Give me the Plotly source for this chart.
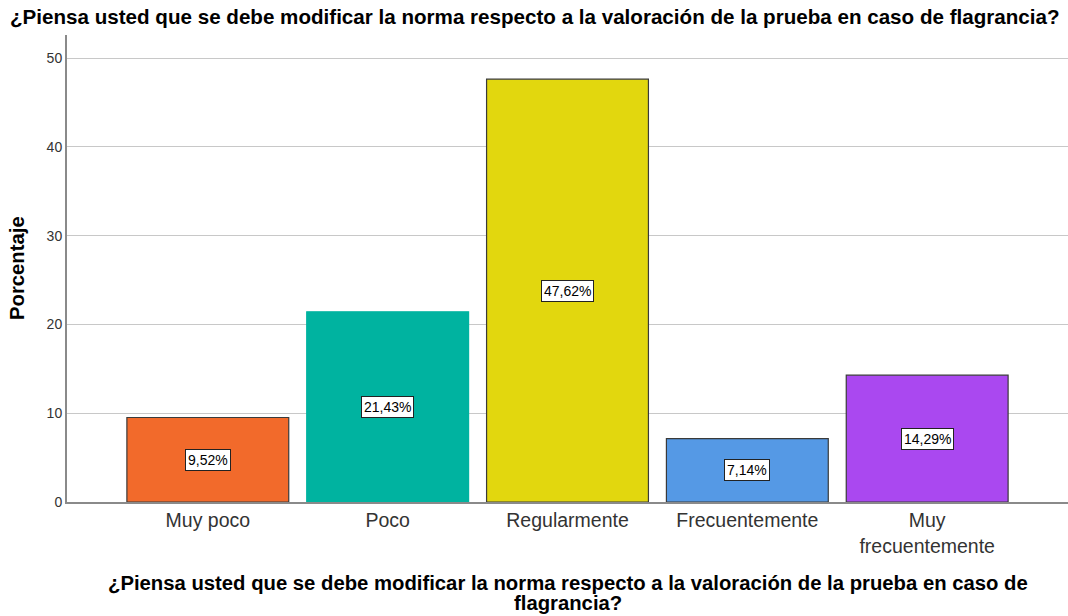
import plotly.graph_objects as go

categories = ["Muy poco", "Poco", "Regularmente", "Frecuentemente", "Muy<br>frecuentemente"]
values = [9.52, 21.43, 47.62, 7.14, 14.29]
labels = ["9,52%", "21,43%", "47,62%", "7,14%", "14,29%"]
colors = ["#F26A2B", "#00B3A0", "#E2D70E", "#5599E5", "#AA48F0"]
edge_colors = ["#3a3a3a", "#00B3A0", "#3a3a3a", "#3a3a3a", "#3a3a3a"]
y_ticks = [0, 10, 20, 30, 40, 50]

title_text = "¿Piensa usted que se debe modificar la norma respecto a la valoración de la prueba en caso de flagrancia?"
xtitle_lines = ["¿Piensa usted que se debe modificar la norma respecto a la valoración de la prueba en caso de",
                "flagrancia?"]
ytitle_text = "Porcentaje"

FONT = "Liberation Sans, Arial, sans-serif"
W, H = 1068, 616
L, R, T, B = 67, 0, 35, 114
PW, PH = W - L - R, H - T - B


def px_x(x):
    return (x - L) / PW


def px_y(y):
    return (H - B - y) / PH


fig = go.Figure()
fig.add_trace(go.Bar(
    x=list(range(len(categories))),
    y=values,
    marker=dict(color=colors, line=dict(color=edge_colors, width=1.2)),
    width=0.9,
    hoverinfo="skip",
))

for i, (v, lab) in enumerate(zip(values, labels)):
    fig.add_annotation(
        x=i, y=v / 2, xref="x", yref="y", text=lab, showarrow=False,
        font=dict(family=FONT, size=14, color="black"),
        bgcolor="white", bordercolor="#222", borderwidth=1, borderpad=2,
    )

fig.add_annotation(
    x=px_x(8), y=px_y(17), xref="paper", yref="paper",
    text="<b>" + title_text + "</b>", showarrow=False,
    xanchor="left", yanchor="middle",
    font=dict(family=FONT, size=20.6, color="black"),
)
for line, yc in zip(xtitle_lines, [583, 603]):
    fig.add_annotation(
        x=px_x(568), y=px_y(yc), xref="paper", yref="paper",
        text="<b>" + line + "</b>", showarrow=False,
        xanchor="center", yanchor="middle",
        font=dict(family=FONT, size=20.3, color="black"),
    )
fig.add_annotation(
    x=px_x(17), y=px_y(268), xref="paper", yref="paper",
    text="<b>" + ytitle_text + "</b>", showarrow=False, textangle=-90,
    xanchor="center", yanchor="middle",
    font=dict(family=FONT, size=20.3, color="black"),
)

fig.update_layout(
    width=W, height=H,
    margin=dict(l=L, r=R, t=T, b=B),
    paper_bgcolor="white", plot_bgcolor="white",
    showlegend=False,
    font=dict(family=FONT, color="#222"),
)

fig.update_xaxes(
    range=[-0.783, 4.783],
    tickvals=list(range(len(categories))), ticktext=categories,
    tickfont=dict(family=FONT, size=19.5, color="#333"),
    showline=True, linecolor="#8a8a8a", linewidth=2,
    ticks="", showgrid=False, zeroline=False,
)
fig.update_yaxes(
    range=[0, 52.6],
    tickvals=y_ticks,
    tickfont=dict(family=FONT, size=14, color="#333"),
    showline=True, linecolor="#8a8a8a", linewidth=2,
    ticks="", showgrid=True, gridcolor="#c8c8c8", gridwidth=1,
    zeroline=False,
)

fig.write_html("out.html", config={"displayModeBar": False},
               post_script="document.body.style.margin='0';")
